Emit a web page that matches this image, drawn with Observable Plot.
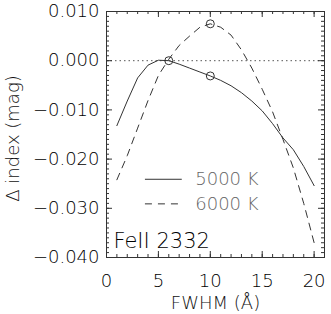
<!DOCTYPE html>
<html><head><meta charset="utf-8">
<script src="https://cdn.jsdelivr.net/npm/d3@7"></script>
<script src="https://cdn.jsdelivr.net/npm/@observablehq/plot@0.6"></script>
<style>body{margin:0;background:#fff} svg{display:block}</style>
</head><body><div id="chart"></div>
<script>
const fwhm = [1,2,3,4,5,6,7,8,9,10,11,12,13,14,15,16,17,18,19,20];
const index5000 = [-0.0132,-0.0082,-0.0035,-0.0009,0.0001,0.0000,-0.0007,-0.0015,-0.0023,-0.0031,-0.0040,-0.0051,-0.0065,-0.0082,-0.0102,-0.0128,-0.0157,-0.0181,-0.0215,-0.0254];
const index6000 = [-0.0242,-0.0193,-0.0137,-0.0081,-0.0030,0.0003,0.0031,0.0050,0.0068,0.0075,0.0068,0.0052,0.0022,-0.0015,-0.0058,-0.0104,-0.0160,-0.0218,-0.0290,-0.0370];
const markerX = [6,10,10];
const markerY = [0.0000,-0.0031,0.0075];
const xTicks = [0,5,10,15,20];
const yTicks = [-0.04,-0.03,-0.02,-0.01,0,0.01];
const seriesLabels = ["5000 K","6000 K"];
const xLabel = "FWHM (Å)";
const yLabel = "Δ index (mag)";
const panelLabel = "FeII 2332";

const W = 331, H = 314;
const mL = 106, mR = 7, mT = 11, mB = 57;
const iW = W - mL - mR, iH = H - mT - mB;
const xMinor = d3.range(0, 22, 1);
const yMinor = d3.range(-40, 11, 1).map(d => d / 1000);
const ink = "#333";
const font = "DejaVu Sans";
const fw = 200;
const fmtY = d3.format(".3f");

const s5000 = fwhm.map((x, i) => ({x, y: index5000[i]}));
const s6000 = fwhm.map((x, i) => ({x, y: index6000[i]}));
const markers = markerX.map((x, i) => ({x, y: markerY[i]}));

const plot = Plot.plot({
  width: W, height: H,
  marginLeft: mL, marginRight: mR, marginTop: mT, marginBottom: mB,
  x: {domain: [0, 21]},
  y: {domain: [-0.04, 0.01]},
  style: {fontFamily: font, background: "#fff", fontWeight: fw},
  marks: [
    Plot.ruleY([0], {stroke: "#555", strokeWidth: 1, strokeDasharray: "1.5,3"}),
    Plot.line(s5000, {x: "x", y: "y", stroke: "#333", strokeWidth: 1}),
    Plot.line(s6000, {x: "x", y: "y", stroke: "#333", strokeWidth: 1, strokeDasharray: "7,6"}),
    Plot.dot(markers, {x: "x", y: "y", r: 4, stroke: "#333", fill: "none", strokeWidth: 1}),
    Plot.tickX(xMinor, {x: d => d, stroke: ink, insetTop: iH - 3}),
    Plot.tickX(xMinor, {x: d => d, stroke: ink, insetBottom: iH - 3}),
    Plot.tickY(yMinor, {y: d => d, stroke: ink, insetRight: iW - 3}),
    Plot.tickY(yMinor, {y: d => d, stroke: ink, insetLeft: iW - 3}),
    Plot.tickX(xTicks, {x: d => d, stroke: ink, insetTop: iH - 6}),
    Plot.tickX(xTicks, {x: d => d, stroke: ink, insetBottom: iH - 6}),
    Plot.tickY(yTicks, {y: d => d, stroke: ink, insetRight: iW - 6}),
    Plot.tickY(yTicks, {y: d => d, stroke: ink, insetLeft: iW - 6}),
    Plot.frame({stroke: ink, strokeWidth: 1}),
    Plot.axisX({ticks: xTicks, tickSize: 0, tickPadding: 17, fontSize: 18, fontWeight: fw, fill: "#000", label: null, tickFormat: d => String(d)}),
    Plot.axisY({ticks: yTicks, tickSize: 0, tickPadding: 7, fontSize: 18, fontWeight: fw, fill: "#000", label: null, tickFormat: d => fmtY(d)}),
    Plot.ruleY([{y: -0.0241, x1: 3.75, x2: 7.3}], {y: "y", x1: "x1", x2: "x2", stroke: "#333", strokeWidth: 1}),
    Plot.ruleY([{y: -0.0291, x1: 3.75, x2: 7.3}], {y: "y", x1: "x1", x2: "x2", stroke: "#333", strokeWidth: 1, strokeDasharray: "7,6"}),
    Plot.text([{y: -0.0241, t: seriesLabels[0]}, {y: -0.0291, t: seriesLabels[1]}], {x: () => 8.55, y: "y", text: "t", textAnchor: "start", fontSize: 18, fontWeight: fw, fill: "#666"}),
    Plot.text([panelLabel], {frameAnchor: "bottom-left", dx: 7, dy: -10, lineAnchor: "bottom", textAnchor: "start", fontSize: 21, fontWeight: fw, fill: "#000"}),
    Plot.text([xLabel], {frameAnchor: "bottom", dy: 51, lineAnchor: "bottom", textAnchor: "middle", fontSize: 18, fontWeight: fw, fill: "#111"}),
    Plot.text([yLabel], {frameAnchor: "left", dx: -88, dy: 4, rotate: -90, lineAnchor: "bottom", textAnchor: "middle", fontSize: 18, fontWeight: fw, fill: "#111"})
  ]
});
document.getElementById("chart").appendChild(plot);
</script>
</body></html>
